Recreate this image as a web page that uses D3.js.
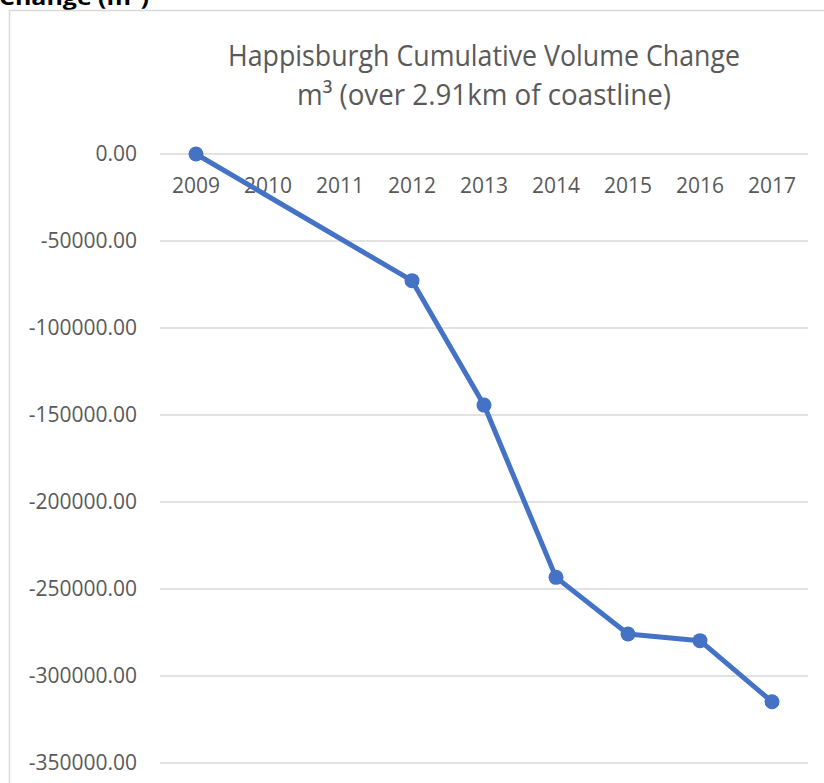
<!DOCTYPE html>
<html>
<head>
<meta charset="utf-8">
<script src="https://cdn.jsdelivr.net/npm/d3@7"></script>
<style>
  body { margin: 0; background: #fff; }
  svg { display: block; }
</style>
</head>
<body>
<div id="chart"></div>
<script>
// data (2010 & 2011 have no value, line joins across them)
var years = ['2009', '2010', '2011', '2012', '2013', '2014', '2015', '2016', '2017'];
var volume = [0, null, null, -72800, -144300, -243300, -275900, -279700, -314800];
var yTicks = [0, -50000, -100000, -150000, -200000, -250000, -300000, -350000];
var titleLines = ['Happisburgh Cumulative Volume Change', 'm\u00B3 (over 2.91km of coastline)'];

var w = 824, h = 783;
var textColor = '#595959';
var gridColor = '#d9d9d9';
var lineColor = '#4472C4';

var svg = d3.select('#chart').append('svg')
  .attr('width', w)
  .attr('height', h);

// cropped heading from the page above the chart (cut off in the original too)
svg.append('text')
  .attr('x', -1)
  .attr('y', 5)
  .attr('font-family', 'Open Sans')
  .attr('font-weight', 'bold')
  .attr('font-size', 22)
  .attr('fill', '#000')
  .attr('textLength', 150)
  .attr('lengthAdjust', 'spacingAndGlyphs')
  .text('Change (m\u00B3)');

// chart area border (runs off right and bottom)
svg.append('rect')
  .attr('x', 9.5)
  .attr('y', 10.5)
  .attr('width', 900)
  .attr('height', 900)
  .attr('fill', 'none')
  .attr('stroke', gridColor)
  .attr('stroke-width', 1.5);

var x = d3.scaleBand()
  .domain(years)
  .range([160, 808])
  .padding(0);

var y = d3.scaleLinear()
  .domain([0, -350000])
  .range([154, 763]);

// title
var titleWidths = [512, 374];
svg.selectAll('text.title')
  .data(titleLines)
  .join('text')
  .attr('class', 'title')
  .attr('x', 484)
  .attr('y', (d, i) => 66 + i * 39)
  .attr('text-anchor', 'middle')
  .attr('font-family', 'Open Sans')
  .attr('font-size', 29)
  .attr('fill', textColor)
  .attr('textLength', (d, i) => titleWidths[i])
  .attr('lengthAdjust', 'spacingAndGlyphs')
  .text(d => d);

// gridlines
svg.append('g')
  .selectAll('line')
  .data(yTicks)
  .join('line')
  .attr('x1', 160)
  .attr('x2', 808)
  .attr('y1', d => y(d))
  .attr('y2', d => y(d))
  .attr('stroke', gridColor)
  .attr('stroke-width', 1.5);

// y axis labels
var yAxis = d3.axisLeft(y)
  .tickValues(yTicks)
  .tickFormat(d3.format('.2f'))
  .tickSize(0)
  .tickPadding(0);

var gy = svg.append('g')
  .attr('transform', 'translate(137,0)')
  .call(yAxis);
gy.select('.domain').remove();
gy.selectAll('text')
  .attr('font-family', 'Open Sans')
  .attr('font-size', 21)
  .attr('fill', textColor)
  .text(d => d3.format('.2f')(d).replace('\u2212', '-'));

// x axis labels (category axis sits at 0)
var xAxis = d3.axisBottom(x).tickSize(0).tickPadding(0);
var gx = svg.append('g')
  .attr('transform', 'translate(0,' + y(0) + ')')
  .call(xAxis);
gx.select('.domain').remove();
gx.selectAll('text')
  .attr('font-family', 'Open Sans')
  .attr('font-size', 21)
  .attr('fill', textColor)
  .attr('dy', null)
  .attr('y', 39);

// series
var pts = years.map((d, i) => ({year: d, v: volume[i]})).filter(d => d.v !== null);

var line = d3.line()
  .x(d => x(d.year) + x.bandwidth() / 2)
  .y(d => y(d.v));

svg.append('path')
  .datum(pts)
  .attr('d', line)
  .attr('fill', 'none')
  .attr('stroke', lineColor)
  .attr('stroke-width', 5)
  .attr('stroke-linejoin', 'round');

svg.append('g')
  .selectAll('circle')
  .data(pts)
  .join('circle')
  .attr('cx', d => x(d.year) + x.bandwidth() / 2)
  .attr('cy', d => y(d.v))
  .attr('r', 7.5)
  .attr('fill', lineColor);
</script>
</body>
</html>
